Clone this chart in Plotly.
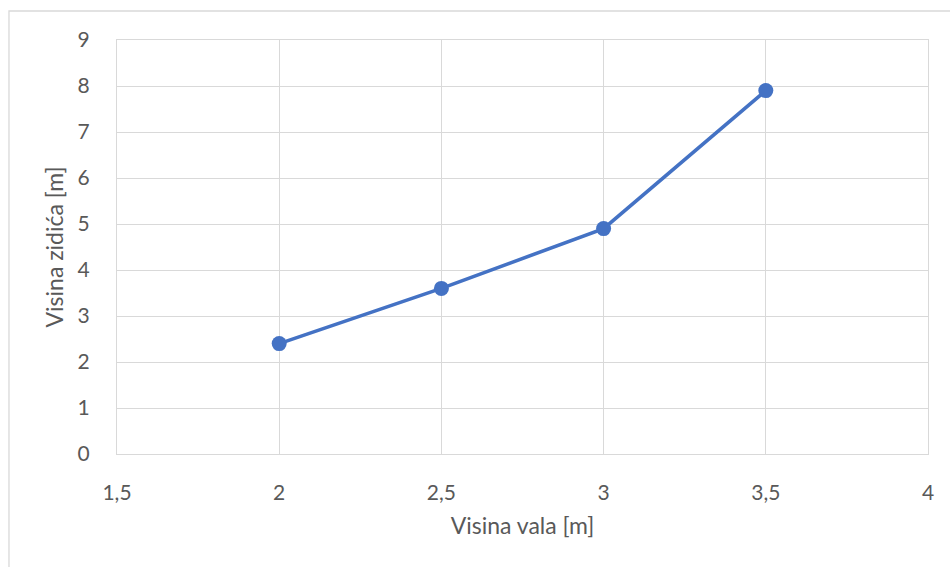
import plotly.graph_objects as go

wave_height = [2, 2.5, 3, 3.5]
wall_height = [2.4, 3.6, 4.9, 7.9]

x_ticks = [1.5, 2, 2.5, 3, 3.5, 4]
x_tick_labels = ["1,5", "2", "2,5", "3", "3,5", "4"]
y_ticks = [0, 1, 2, 3, 4, 5, 6, 7, 8, 9]
y_tick_labels = [str(v) for v in y_ticks]

grid = "#d9d9d9"
tick_col = "#595959"
font = "Lato, Carlito, Calibri, sans-serif"

fig = go.Figure()
fig.add_trace(go.Scatter(
    x=wave_height, y=wall_height, mode="lines+markers",
    line=dict(color="#4472C4", width=3.6),
    marker=dict(color="#4472C4", size=15),
    showlegend=False, hoverinfo="x+y",
))

fig.update_layout(
    width=950, height=567,
    margin=dict(l=117, r=22, t=40, b=113),
    paper_bgcolor="white", plot_bgcolor="white",
    font=dict(family=font, color=tick_col, size=21),
    xaxis=dict(
        range=[1.5, 4], tickvals=x_ticks, ticktext=x_tick_labels,
        showgrid=True, gridcolor=grid, gridwidth=1.3,
        showline=True, mirror=True, linecolor=grid, linewidth=1.3,
        ticks="", ticklabelstandoff=20, zeroline=False,
        tickfont=dict(size=21, color=tick_col),
        title=dict(text="Visina vala [m]", font=dict(size=23, color=tick_col), standoff=14),
    ),
    yaxis=dict(
        range=[0, 9], tickvals=y_ticks, ticktext=y_tick_labels,
        showgrid=True, gridcolor=grid, gridwidth=1.3,
        showline=True, mirror=True, linecolor=grid, linewidth=1.3,
        ticks="", ticklabelstandoff=22, zeroline=False,
        tickfont=dict(size=21, color=tick_col),
        title=dict(text="Visina zidića [m]", font=dict(size=23, color=tick_col), standoff=7),
    ),
    shapes=[dict(
        type="rect", xref="paper", yref="paper",
        x0=-0.1332, x1=1.2, y0=-0.5, y1=1.070,
        line=dict(color=grid, width=1.3), fillcolor="rgba(0,0,0,0)", layer="below",
    )],
)

fig.write_html("out.html", config={"displayModeBar": False},
               post_script="document.body.style.margin='0';")
